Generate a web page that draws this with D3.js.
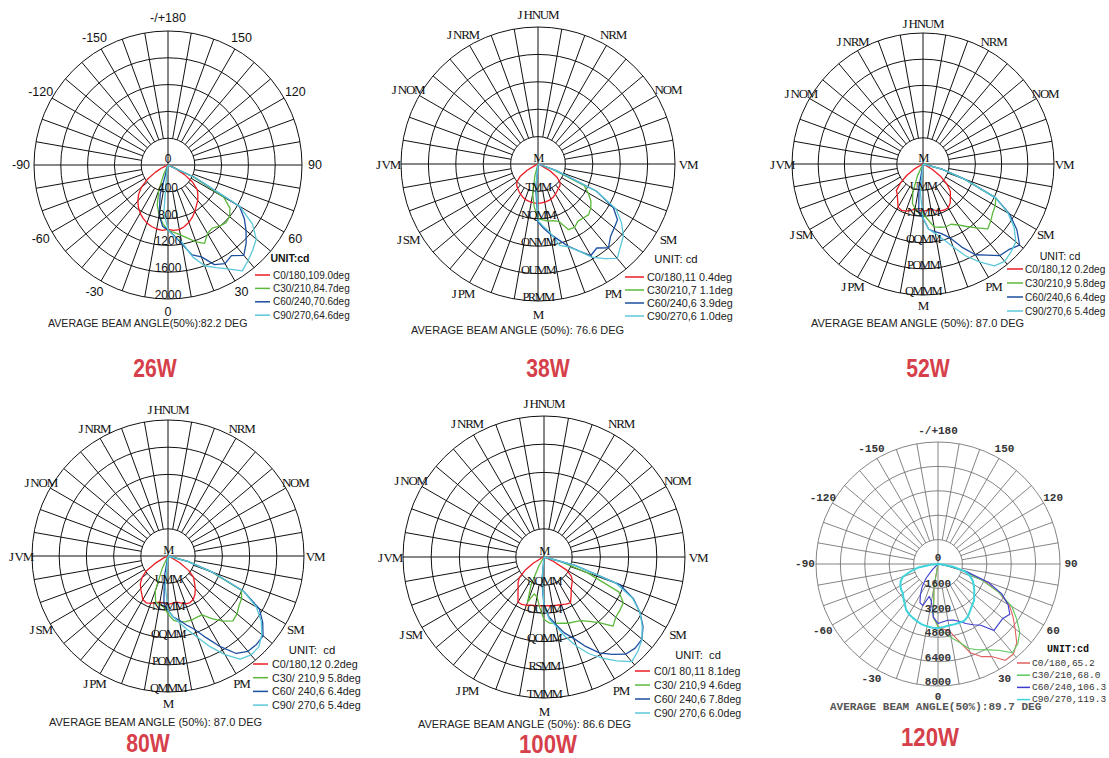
<!DOCTYPE html>
<html>
<head>
<meta charset="utf-8">
<script src="https://cdn.jsdelivr.net/npm/d3@7"></script>
<style>
  body { margin: 0; background: #fff; }
  text { white-space: pre; }
</style>
</head>
<body>
<svg id="chart" width="1109" height="758"></svg>
<script>
// gamma angles of the photometric curves, 0 = straight down
var gammaAngles = [-90,-85,-80,-75,-70,-65,-60,-55,-50,-45,-40,-35,-30,-25,-20,-15,-10,-5,0,5,10,15,20,25,30,35,40,45,50,55,60,65,70,75,80,85,90];

// 26W  (cd)
var w26_c0  = [0,0,0,0,20,100,220,380,520,620,700,770,830,880,920,950,970,980,960,980,980,950,910,860,800,740,690,630,570,450,280,120,30,0,0,0,0];
var w26_c30 = [0,0,0,0,0,0,0,0,0,0,0,0,0,150,400,620,760,880,980,1010,1060,1130,1220,1290,1180,1150,1190,1220,1200,1130,960,400,0,0,0,0,0];
var w26_c60 = [0,0,0,0,0,0,0,0,0,0,0,0,0,0,0,450,760,920,970,1060,1200,1390,1460,1640,1700,1650,1760,1650,1520,1390,1230,450,0,0,0,0,0];
var w26_c90 = [0,0,0,0,0,0,0,0,0,0,0,0,0,0,0,0,100,700,970,1070,1160,1420,1600,1690,1790,1930,1860,1790,1720,1540,1240,450,0,0,0,0,0];

// 38W
var w38_c0  = [0,0,0,0,0,80,320,560,700,770,810,850,890,930,960,975,990,1000,1000,1000,990,975,960,930,890,850,810,790,740,600,360,80,0,0,0,0,0];
var w38_c30 = [0,0,0,0,0,0,0,0,0,0,0,0,0,0,0,300,780,1100,1400,1430,1480,1500,1560,1850,1870,1780,1800,1830,1760,1650,1480,1300,400,0,0,0,0];
var w38_c60 = [0,0,0,0,0,0,0,0,0,0,0,0,0,0,0,0,0,650,1480,1650,1820,2000,2230,2450,2700,2620,2800,2620,2540,2480,2220,1650,500,0,0,0,0];
var w38_c90 = [0,0,0,0,0,0,0,0,0,0,0,0,0,0,0,0,0,550,1450,1600,1780,2150,2250,2450,2750,2950,3150,2980,2850,2600,2300,1650,500,0,0,0,0];

// 52W
var w52_c0  = [0,0,0,0,0,50,300,600,900,1150,1220,1350,1520,1560,1530,1470,1400,1420,1450,1420,1400,1470,1520,1550,1540,1450,1300,1180,950,650,320,50,0,0,0,0,0];
var w52_c30 = [0,0,0,0,0,0,0,0,0,0,0,0,0,400,900,1250,1380,1480,1520,1700,1950,2000,2040,2030,2150,2330,2550,2800,2700,2600,2550,2450,1350,600,0,0,0];
var w52_c60 = [0,0,0,0,0,0,0,0,0,0,0,0,0,0,0,0,700,1500,1650,2000,2100,2200,2400,2800,3200,3400,3650,3700,3850,3500,3050,2450,1350,600,0,0,0];
var w52_c90 = [0,0,0,0,0,0,0,0,0,0,0,0,0,0,0,0,0,900,1650,2000,2150,2380,2700,3100,3450,3800,3880,3800,3700,3400,3000,2450,1350,600,0,0,0];

// 80W
var w80_c0  = [0,0,0,0,0,150,450,800,1000,1150,1250,1350,1480,1520,1480,1420,1380,1400,1420,1400,1380,1430,1500,1520,1480,1380,1250,1100,980,750,400,100,0,0,0,0,0];
var w80_c30 = [0,0,0,0,0,0,0,0,0,0,0,0,0,400,1100,1400,1450,1500,1700,1900,1970,2000,2010,1990,2000,2250,2500,2700,2650,2550,2500,2380,1350,600,0,0,0];
var w80_c60 = [0,0,0,0,0,0,0,0,0,0,0,0,0,0,0,0,600,1400,1600,1800,1920,2100,2300,2650,3080,3500,3660,3680,3650,3400,3100,2450,1400,600,0,0,0];
var w80_c90 = [0,0,0,0,0,0,0,0,0,0,0,0,0,0,0,0,0,900,1600,1800,2000,2250,2550,2950,3350,3700,3800,3780,3600,3350,3000,2450,1400,600,0,0,0];

// 100W
var w100_c0  = [0,0,0,0,0,150,600,1150,1600,1820,2000,2250,2580,2600,2550,2480,2450,2430,2430,2430,2450,2480,2520,2580,2630,2350,2100,1950,1840,1650,1300,500,0,0,0,0,0];
var w100_c30 = [0,0,0,0,0,0,0,0,0,0,0,0,500,1500,2400,1900,2000,2500,3100,3300,3350,3400,3500,3550,3650,3900,4250,4850,4650,4600,4550,4100,2300,800,0,0,0];
var w100_c60 = [0,0,0,0,0,0,0,0,0,0,0,0,0,0,0,0,0,1200,2450,3000,3400,3900,4300,4900,5500,5900,6300,6400,6350,6000,5500,4900,4000,1600,0,0,0];
var w100_c90 = [0,0,0,0,0,0,0,0,0,0,0,0,0,0,0,0,0,1000,2450,3100,3500,4100,4700,5300,5800,6300,6780,6600,6350,5950,5500,4850,3800,1600,0,0,0];

// 120W
var w120_c0  = [0,0,0,0,0,0,0,0,0,0,0,0,0,0,0,0,1500,3500,4100,4300,4500,5200,6200,6700,7000,7700,7700,7300,6600,6000,5400,4400,3200,1800,500,0,0];
var w120_c30 = [0,0,0,0,0,0,0,0,0,0,0,0,0,0,0,0,1500,3500,4100,4500,4900,5300,5900,6200,6500,6900,7600,7400,7000,6300,5600,4400,3000,1700,400,0,0];
var w120_c60 = [0,0,0,0,0,0,0,0,0,500,1200,1800,2300,2800,2900,2200,2500,3500,3900,3800,3750,3800,4000,4300,4600,4900,5700,5600,5550,5750,5300,4600,3500,2000,600,0,0];
var w120_c90 = [0,500,1300,1850,2450,2700,2850,2950,3000,3200,3400,3650,3800,3900,4000,4100,4150,4200,4200,4150,4100,4100,4100,4100,3950,3700,3500,3350,3100,2900,2700,2500,2200,1800,1000,300,0];

// angle labels (clockwise from the bottom) and ring values
var angleDegs      = [0,30,60,90,120,150,180,-150,-120,-90,-60,-30];
var numAngleText   = ["0","30","60","90","120","150","-/+180","-150","-120","-90","-60","-30"];
var codeAngleText  = ["M","PM","SM","VM","NOM","NRM","J HNUM","J NRM","J NOM","J VM","J SM","J PM"];

var rings26 = [400,800,1200,1600,2000];
var ringText26 = ["0","400","800","1200","1600","2000"];
var rings38 = [700,1400,2100,2800,3500];
var ringText38 = ["M","TMM","NQMM","ONMM","OUMM","PRMM"];
var rings52 = [800,1600,2400,3200,4000];
var ringText52 = ["M","UMM","NSMM","OQMM","POMM","QMMM"];
var rings100 = [1400,2800,4200,5600,7000];
var ringText100 = ["M","NQMM","OUMM","QOMM","RSMM","TMMM"];
var rings120 = [1600,3200,4800,6400,8000];
var ringText120 = ["0","1600","3200","4800","6400","8000"];

// legends
var legend26  = ["C0/180,109.0deg","C30/210,84.7deg","C60/240,70.6deg","C90/270,64.6deg"];
var legend38  = ["C0/180,11 0.4deg","C30/210,7 1.1deg","C60/240,6 3.9deg","C90/270,6 1.0deg"];
var legend52  = ["C0/180,12 0.2deg","C30/210,9 5.8deg","C60/240,6 6.4deg","C90/270,6 5.4deg"];
var legend80  = ["C0/180,12 0.2deg","C30/ 210,9 5.8deg","C60/ 240,6 6.4deg","C90/ 270,6 5.4deg"];
var legend100 = ["C0/1 80,11 8.1deg","C30/ 210,9 4.6deg","C60/ 240,6 7.8deg","C90/ 270,6 6.0deg"];
var legend120 = ["C0/180,65.2","C30/210,68.0","C60/240,106.3","C90/270,119.3"];

var styles = {
  sans:  {grid:"#111", gw:1, colors:["#ec1c24","#5cb83c","#1c4ea0","#5ac8d8"], lw:[1.3,1.3,1.3,1.3],
          family:"'Liberation Sans', Arial, sans-serif", angSize:12.5, angSpace:0, ringSize:12, ringSpace:0, weight:"normal", fill:"#111",
          capSize:10.6},
  serif: {grid:"#111", gw:1, colors:["#ec1c24","#5cb83c","#1c4ea0","#5ac8d8"], lw:[1.3,1.3,1.3,1.3],
          family:"'Liberation Serif', 'Times New Roman', serif", angSize:13, angSpace:-1.2, ringSize:12.5, ringSpace:-1.6, weight:"normal", fill:"#111",
          capSize:11},
  mono:  {grid:"#666", gw:0.8, colors:["#e0605e","#5cc85c","#3c3cd0","#40d4dc"], lw:[1.1,1.1,1.1,2],
          family:"'Liberation Mono', 'DejaVu Sans Mono', monospace", angSize:11, angSpace:0, ringSize:11, ringSpace:0, weight:"bold", fill:"#333",
          capSize:11}
};

var panels = [
  {cx:168, cy:165, R:134, max:2000, pad:13, font:"sans", rings:rings26, ringText:ringText26, angleText:numAngleText,
   series:[w26_c0,w26_c30,w26_c60,w26_c90], legend:legend26, legSize:10, unit:"UNIT:cd", unitBold:true,
   lg:{ux:290, uy:258, x0:255, x1:270, tx:273, y0:275, dy:13.4},
   caption:"AVERAGE BEAM ANGLE(50%):82.2 DEG", capX:48, capY:323, title:"26W", tX:155, tY:368},
  {cx:538, cy:164, R:137, max:3500, pad:13, font:"serif", rings:rings38, ringText:ringText38, angleText:codeAngleText,
   series:[w38_c0,w38_c30,w38_c60,w38_c90], legend:legend38, legSize:10.8, unit:"UNIT: cd",
   lg:{ux:676, uy:259, x0:625, x1:644, tx:647, y0:277, dy:13},
   caption:"AVERAGE BEAM ANGLE (50%): 76.6 DEG", capX:411, capY:330, title:"38W", tX:548, tY:368},
  {cx:923, cy:164, R:131, max:4000, pad:10, font:"serif", rings:rings52, ringText:ringText52, angleText:codeAngleText,
   series:[w52_c0,w52_c30,w52_c60,w52_c90], legend:legend52, legSize:10.1, unit:"UNIT: cd",
   lg:{ux:1060, uy:256, x0:1007, x1:1023, tx:1025, y0:269, dy:14},
   caption:"AVERAGE BEAM ANGLE (50%): 87.0 DEG", capX:811, capY:323, title:"52W", tX:928, tY:368},
  {cx:168, cy:556, R:136, max:4000, pad:11, font:"serif", rings:rings52, ringText:ringText52, angleText:codeAngleText,
   series:[w80_c0,w80_c30,w80_c60,w80_c90], legend:legend80, legSize:10.8, unit:"UNIT:  cd",
   lg:{ux:312, uy:650, x0:253, x1:268, tx:272, y0:664, dy:13.7},
   caption:"AVERAGE BEAM ANGLE (50%): 87.0 DEG", capX:49, capY:722, title:"80W", tX:148, tY:743},
  {cx:544, cy:557, R:141, max:7000, pad:13, font:"serif", rings:rings100, ringText:ringText100, angleText:codeAngleText,
   series:[w100_c0,w100_c30,w100_c60,w100_c90], legend:legend100, legSize:10.6, unit:"UNIT:  cd",
   lg:{ux:698, uy:655, x0:635, x1:650, tx:654, y0:671, dy:14},
   caption:"AVERAGE BEAM ANGLE (50%): 86.6 DEG", capX:418, capY:724, title:"100W", tX:548, tY:744},
  {cx:938, cy:564, R:122, max:8000, pad:11, font:"mono", rings:rings120, ringText:ringText120, angleText:numAngleText,
   series:[w120_c0,w120_c30,w120_c60,w120_c90], legend:legend120, legSize:9.5, unit:"UNIT:cd", unitBold:true,
   lg:{ux:1068, uy:649, x0:1017, x1:1030, tx:1032, y0:663, dy:12.2},
   caption:"AVERAGE BEAM ANGLE(50%):89.7 DEG", capX:830, capY:707, title:"120W", tX:930, tY:737}
];

var svg = d3.select("#chart");
// 0 deg at the bottom, 90 to the right
var ang = d3.scaleLinear().domain([0, 180]).range([Math.PI, 0]);

panels.forEach(function(p){ render_panel(p); });

function render_panel(p){
    var f = styles[p.font];
    var r = d3.scaleLinear().domain([0, p.max]).range([0, p.R]);
    var g = svg.append("g").attr("transform", "translate(" + p.cx + "," + p.cy + ")");

    // RINGS
    g.selectAll("circle.ring").data(p.rings).enter().append("circle")
        .attr("class", "ring")
        .attr("r", function(d){ return r(d); })
        .attr("fill", "none")
        .attr("stroke", f.grid)
        .attr("stroke-width", f.gw);

    // SPOKES every 10 deg, the main axes cross the centre
    var spokes = d3.range(-170, 181, 10);
    var inner = r(p.rings[0]);
    g.selectAll("line.spoke").data(spokes).enter().append("line")
        .attr("class", "spoke")
        .attr("x1", function(d){ return (d % 90 === 0 ? 0 : inner) * Math.sin(ang(d)); })
        .attr("y1", function(d){ return -(d % 90 === 0 ? 0 : inner) * Math.cos(ang(d)); })
        .attr("x2", function(d){ return p.R * Math.sin(ang(d)); })
        .attr("y2", function(d){ return -p.R * Math.cos(ang(d)); })
        .attr("stroke", f.grid)
        .attr("stroke-width", f.gw);

    // CURVES
    var line = d3.lineRadial()
        .angle(function(d){ return ang(d[0]); })
        .radius(function(d){ return r(d[1]); });
    p.series.forEach(function(vals, i){
        g.append("path")
            .datum(gammaAngles.map(function(a, j){ return [a, vals[j]]; }))
            .attr("d", line)
            .attr("fill", "none")
            .attr("stroke", f.colors[i])
            .attr("stroke-width", f.lw[i])
            .attr("stroke-linejoin", "round");
    });

    // ANGLE LABELS
    var lr = p.R + p.pad;
    g.selectAll("text.ang").data(angleDegs).enter().append("text")
        .attr("x", function(d){ return lr * Math.sin(ang(d)); })
        .attr("y", function(d){ return -lr * Math.cos(ang(d)); })
        .attr("text-anchor", "middle")
        .attr("dominant-baseline", "central")
        .attr("font-family", f.family)
        .attr("font-size", f.angSize)
        .attr("font-weight", f.weight)
        .attr("letter-spacing", f.angSpace)
        .attr("fill", f.fill)
        .text(function(d, i){ return p.angleText[i]; });

    // RING LABELS down the 0 axis
    var ringPos = [0].concat(p.rings);
    g.selectAll("text.ringlab").data(ringPos).enter().append("text")
        .attr("x", 0)
        .attr("y", function(d, i){ return i === 0 ? -6 : r(d) - 4; })
        .attr("text-anchor", "middle")
        .attr("dominant-baseline", "central")
        .attr("font-family", f.family)
        .attr("font-size", f.ringSize)
        .attr("font-weight", f.weight)
        .attr("letter-spacing", f.ringSpace)
        .attr("fill", f.fill)
        .text(function(d, i){ return p.ringText[i]; });

    // LEGEND
    var lg = p.lg;
    var legFamily = p.font === "mono" ? f.family : "'Liberation Sans', Arial, sans-serif";
    svg.append("text")
        .attr("x", lg.ux).attr("y", lg.uy)
        .attr("text-anchor", "middle")
        .attr("dominant-baseline", "central")
        .attr("font-family", legFamily)
        .attr("font-size", p.legSize + 0.5)
        .attr("font-weight", p.unitBold ? "bold" : "normal")
        .attr("fill", "#111")
        .text(p.unit);
    p.legend.forEach(function(txt, i){
        var y = lg.y0 + i * lg.dy;
        svg.append("line")
            .attr("x1", lg.x0).attr("x2", lg.x1)
            .attr("y1", y).attr("y2", y)
            .attr("stroke", f.colors[i])
            .attr("stroke-width", 1.5);
        svg.append("text")
            .attr("x", lg.tx).attr("y", y)
            .attr("dominant-baseline", "central")
            .attr("font-family", legFamily)
            .attr("font-size", p.legSize)
            .attr("fill", p.font === "mono" ? "#333" : "#222")
            .text(txt);
    });

    // CAPTION
    svg.append("text")
        .attr("x", p.capX).attr("y", p.capY)
        .attr("dominant-baseline", "central")
        .attr("font-family", legFamily)
        .attr("font-size", f.capSize)
        .attr("font-weight", p.font === "mono" ? "bold" : "normal")
        .attr("fill", p.font === "mono" ? "#555" : "#222")
        .text(p.caption);

    // TITLE (condensed bold red)
    svg.append("text")
        .attr("x", p.tX).attr("y", p.tY)
        .attr("text-anchor", "middle")
        .attr("dominant-baseline", "central")
        .attr("font-family", "'Liberation Sans', Arial, sans-serif")
        .attr("font-size", 26)
        .attr("font-weight", "bold")
        .attr("textLength", p.title.length * 14.5)
        .attr("lengthAdjust", "spacingAndGlyphs")
        .attr("fill", "#d6404a")
        .text(p.title);
}
</script>
</body>
</html>
